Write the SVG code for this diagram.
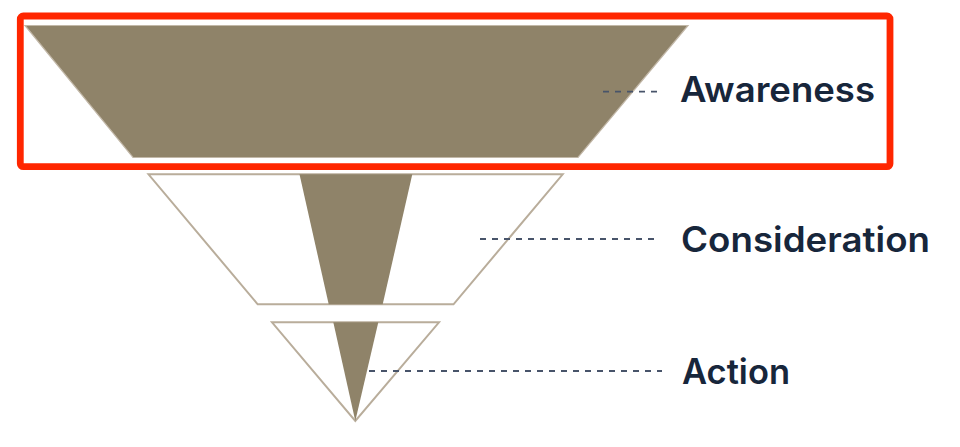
<svg xmlns="http://www.w3.org/2000/svg" width="960" height="447" viewBox="0 0 960 447">
<style>
.fill{fill:#8f8369;stroke:#c2b8a8;stroke-width:1.2}
.outline{fill:#ffffff;stroke:#b9ad9b;stroke-width:2}
.core{fill:#8f8369;stroke:none}
.dash{stroke:#48546a;stroke-width:1.8;stroke-dasharray:6 6;fill:none}
.label{font-family:Inter,"Noto Sans","DejaVu Sans",sans-serif;font-weight:600;font-size:35px;fill:#17263b}
</style>
<rect width="960" height="447" fill="#ffffff"/>
<g id="awareness">
<polygon class="fill" points="25,25.5 688,25.5 578,157.5 133,157.5"/>
<text class="label" x="680" y="102" textLength="195" lengthAdjust="spacingAndGlyphs">Awareness</text>
</g>
<g id="consideration">
<polygon class="outline" points="148.5,174.3 562.7,174.3 453.5,304.3 257.7,304.3"/>
<polygon class="core" points="299.5,174.3 412.3,174.3 382.7,304.3 328.7,304.3"/>
<text class="label" x="681" y="252" textLength="249" lengthAdjust="spacingAndGlyphs">Consideration</text>
</g>
<g id="action">
<polygon class="outline" points="272,322.3 439,322.3 355.3,421"/>
<polygon class="core" points="333.3,322.3 378.3,322.3 355.3,421"/>
<text class="label" x="682" y="384" textLength="108" lengthAdjust="spacingAndGlyphs">Action</text>
</g>
<g id="connectors">
<line class="dash" x1="603" y1="91.7" x2="658" y2="91.7"/>
<line class="dash" x1="480" y1="239" x2="656" y2="239"/>
<line class="dash" x1="369" y1="371" x2="662" y2="371"/>
</g>
<g id="highlight">
<rect x="20.3" y="16" width="869.7" height="150.7" rx="3" fill="none" stroke="#ff2600" stroke-width="6.8"/>
</g>
</svg>
